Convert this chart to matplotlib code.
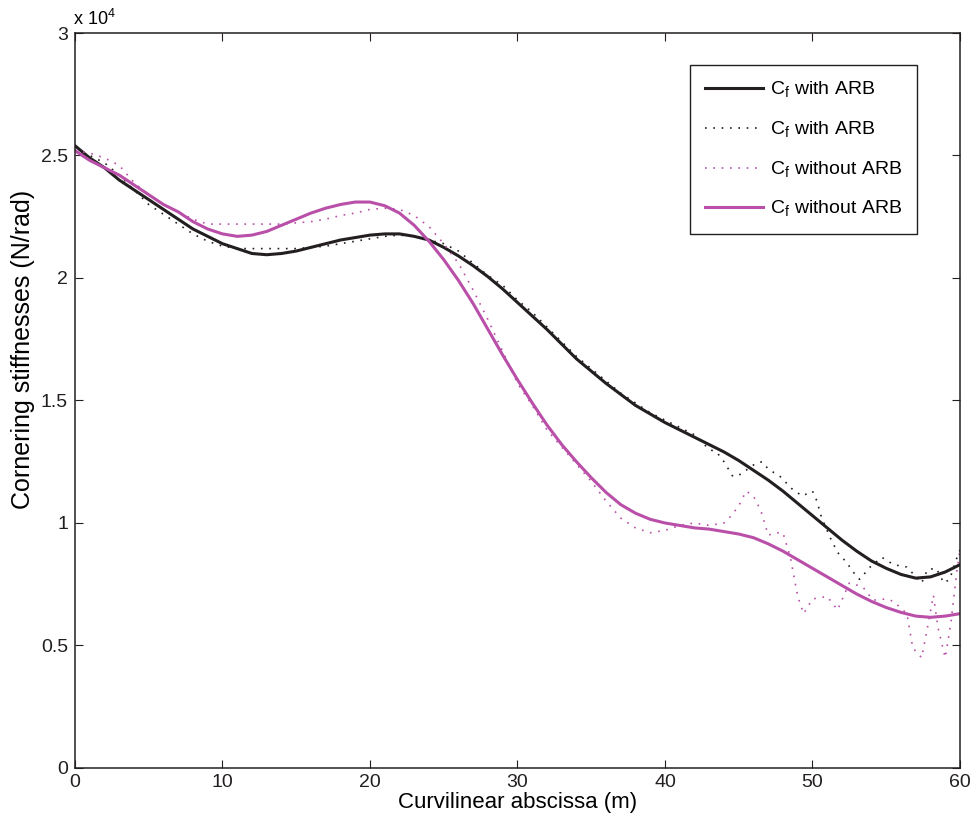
import matplotlib
matplotlib.use("Agg")
import matplotlib.pyplot as plt

# values in units of 1e4 N/rad
x_solid = list(range(0, 61))
cf_arb_solid = [2.54, 2.49, 2.45, 2.40, 2.36, 2.32, 2.28, 2.24, 2.20, 2.17,
                2.14, 2.12, 2.10, 2.095, 2.10, 2.11, 2.125, 2.14, 2.155, 2.165,
                2.175, 2.18, 2.18, 2.17, 2.155, 2.125, 2.09, 2.05, 2.005, 1.955,
                1.90, 1.845, 1.79, 1.73, 1.67, 1.62, 1.57, 1.525, 1.48, 1.445,
                1.41, 1.38, 1.35, 1.32, 1.29, 1.255, 1.215, 1.175, 1.13, 1.08,
                1.03, 0.98, 0.93, 0.885, 0.845, 0.815, 0.79, 0.775, 0.78, 0.80,
                0.83]
cf_noarb_solid = [2.52, 2.48, 2.45, 2.42, 2.38, 2.34, 2.30, 2.27, 2.23, 2.20,
                  2.18, 2.17, 2.175, 2.19, 2.215, 2.24, 2.265, 2.285, 2.30, 2.31,
                  2.31, 2.295, 2.265, 2.215, 2.15, 2.075, 1.99, 1.895, 1.79, 1.685,
                  1.585, 1.49, 1.40, 1.32, 1.25, 1.185, 1.125, 1.075, 1.04, 1.015,
                  1.00, 0.99, 0.98, 0.975, 0.965, 0.955, 0.94, 0.915, 0.885, 0.85,
                  0.815, 0.78, 0.745, 0.71, 0.68, 0.655, 0.635, 0.62, 0.615, 0.62,
                  0.63]

x_arb_dot = list(range(0, 43)) + [43, 43.5, 44, 44.6, 45.2, 45.6, 46.2, 46.6, 47,
                                   47.8, 48.6, 49.3, 50, 50.3, 50.6, 51.2, 51.7,
                                   52.3, 53, 53.2, 53.9, 54.7, 55.5, 56.4, 57.4,
                                   57.8, 58.4, 58.9, 59.3, 59.8, 60]
cf_arb_dot = [2.52, 2.50, 2.47, 2.42, 2.36, 2.30, 2.26, 2.22, 2.18, 2.15,
              2.13, 2.12, 2.12, 2.12, 2.12, 2.12, 2.125, 2.13, 2.14, 2.15,
              2.16, 2.17, 2.175, 2.17, 2.155, 2.14, 2.11, 2.06, 2.01, 1.97,
              1.91, 1.86, 1.80, 1.74, 1.68, 1.63, 1.58, 1.53, 1.49, 1.45,
              1.42, 1.39, 1.36,
              1.30, 1.29, 1.25, 1.19, 1.20, 1.22, 1.245, 1.25, 1.22,
              1.19, 1.14, 1.11, 1.13, 1.09, 1.025, 0.94, 0.88,
              0.84, 0.78, 0.77, 0.82, 0.86, 0.83, 0.82, 0.755,
              0.81, 0.815, 0.755, 0.77, 0.86, 0.89]

x_noarb_dot = list(range(0, 44)) + [44, 44.5, 45, 45.5, 46, 46.5, 47, 47.5, 48,
                                     48.5, 49, 49.4, 50, 51, 51.7, 52.5, 53.4,
                                     54.1, 55, 55.5, 56.4, 56.8, 57.4, 57.8, 58.2,
                                     58.5, 59, 59.4, 59.8, 60]
cf_noarb_dot = [2.52, 2.51, 2.49, 2.46, 2.39, 2.34, 2.30, 2.27, 2.24, 2.22,
                2.22, 2.22, 2.22, 2.22, 2.22, 2.225, 2.23, 2.24, 2.255, 2.265,
                2.28, 2.285, 2.28, 2.255, 2.21, 2.14, 2.06, 1.95, 1.83, 1.70,
                1.57, 1.48, 1.38, 1.31, 1.24, 1.17, 1.09, 1.02, 0.98, 0.96,
                0.97, 0.99, 1.00, 0.99,
                1.00, 1.03, 1.07, 1.13, 1.11, 1.05, 0.95, 0.96, 0.96,
                0.86, 0.70, 0.63, 0.69, 0.70, 0.645, 0.755, 0.74,
                0.685, 0.69, 0.68, 0.63, 0.49, 0.45, 0.575, 0.705,
                0.575, 0.45, 0.60, 0.81, 0.89]

labels = [r"C$_\mathregular{f}$ with ARB", r"C$_\mathregular{f}$ with ARB",
          r"C$_\mathregular{f}$ without ARB", r"C$_\mathregular{f}$ without ARB"]

BLACK = "#231f20"
MAGENTA = "#b94fa8"

plt.rcParams["font.family"] = ["Liberation Sans", "DejaVu Sans"]
plt.rcParams["mathtext.fontset"] = "custom"
plt.rcParams["mathtext.rm"] = "Liberation Sans"

fig = plt.figure(figsize=(9.76, 8.25), dpi=100)
ax = fig.add_axes([0.0768, 0.0691, 0.9068, 0.8909])

ax.plot(x_solid, cf_arb_solid, color=BLACK, lw=2.2, label=labels[0])
ax.plot(x_arb_dot, cf_arb_dot, color=BLACK, lw=1.2, ls=(0, (1, 4)), label=labels[1])
ax.plot(x_noarb_dot, cf_noarb_dot, color=MAGENTA, lw=1.2, ls=(0, (1, 4)), label=labels[2])
ax.plot(x_solid, cf_noarb_solid, color=MAGENTA, lw=2.2, label=labels[3])

ax.set_xlim(0, 60)
ax.set_ylim(0, 3)
ax.set_xticks(range(0, 61, 10))
ax.set_yticks([0, 0.5, 1, 1.5, 2, 2.5, 3])
ax.set_yticklabels(["0", "0.5", "1", "1.5", "2", "2.5", "3"])
ax.tick_params(direction="in", length=6, width=0.8, labelsize=14,
               top=True, right=True, colors=BLACK)
ax.tick_params(axis="y", pad=5)
ax.tick_params(axis="x", pad=4)
for s in ax.spines.values():
    s.set_linewidth(1.1)
    s.set_color(BLACK)

ax.set_xlabel("Curvilinear abscissa (m)", fontsize=16, labelpad=1)
ax.set_ylabel("Cornering stiffnesses (N/rad)", fontsize=18)
ax.yaxis.set_label_coords(-0.059, 0.569)
ax.yaxis.label.set(ha="center", va="center")
ax.text(-0.002, 1.006, r"x 10$^\mathregular{4}$", transform=ax.transAxes,
        fontsize=13, ha="left", va="bottom")

leg = ax.legend(loc="upper right", bbox_to_anchor=(0.951, 0.956), borderaxespad=0,
                fontsize=14, handlelength=3.0, labelspacing=1.0, fancybox=False,
                framealpha=1, borderpad=0.75, handletextpad=0.35)
leg.get_frame().set_edgecolor(BLACK)
leg.get_frame().set_linewidth(1.0)

fig.savefig("out.png", dpi=100)
